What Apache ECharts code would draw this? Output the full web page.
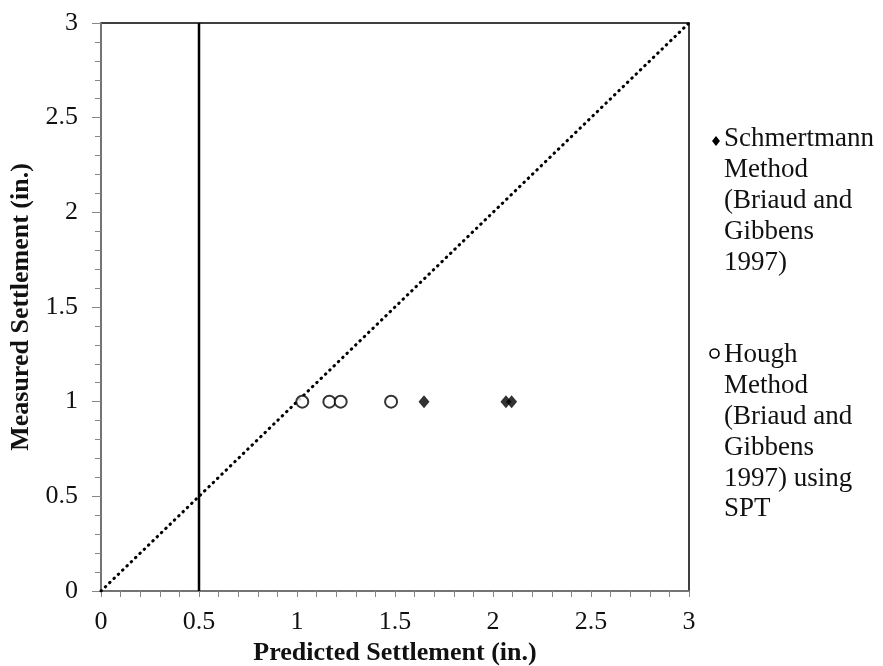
<!DOCTYPE html>
<html>
<head>
<meta charset="utf-8">
<script src="https://cdn.jsdelivr.net/npm/echarts@6/dist/echarts.min.js"></script>
<style>
  html, body { margin: 0; padding: 0; background: #fff; }
  #chart { width: 883px; height: 666px; }
</style>
</head>
<body>
<div id="chart"></div>
<script>
// Predicted vs. measured settlement (inches)
const schmertmannPredicted = [1.648, 2.066, 2.095];
const schmertmannMeasured  = [1.0, 1.0, 1.0];
const houghPredicted = [1.027, 1.165, 1.223, 1.480];
const houghMeasured  = [1.0, 1.0, 1.0, 1.0];
const equalityLine = [[0, 0], [3, 3]];
const limitLine = [[0.5, 0], [0.5, 3]];
const schmertmannLabel = ['Schmertmann', 'Method', '(Briaud and', 'Gibbens', '1997)'];
const houghLabel = ['Hough', 'Method', '(Briaud and', 'Gibbens', '1997) using', 'SPT'];

const serif = '"Liberation Serif", "Times New Roman", serif';
const zip = (xs, ys) => xs.map((x, i) => [x, ys[i]]);

const axisCommon = {
  min: 0, max: 3, interval: 0.5,
  axisLine: { show: true, lineStyle: { color: '#868686', width: 1.5 } },
  axisTick: { show: true, inside: false, length: 6, lineStyle: { color: '#868686', width: 1 } },
  minorTick: { show: true, splitNumber: 5, length: 6, lineStyle: { color: '#868686', width: 1 } },
  splitLine: { show: false },
  axisLabel: { color: '#111', fontFamily: serif, fontSize: 26 },
  nameTextStyle: { color: '#111', fontFamily: serif, fontSize: 26, fontWeight: 'bold' },
  nameLocation: 'middle'
};

const chart = echarts.init(document.getElementById('chart'));
chart.setOption({
  animation: false,
  backgroundColor: '#fff',
  grid: {
    left: 101, top: 23, right: 194, bottom: 75,
    outerBoundsMode: 'none', containLabel: false,
    show: true, borderColor: '#000', borderWidth: 1.5, backgroundColor: 'transparent'
  },
  xAxis: Object.assign({}, axisCommon, {
    type: 'value', name: 'Predicted Settlement (in.)', nameGap: 47,
    axisLabel: Object.assign({}, axisCommon.axisLabel, { margin: 18 })
  }),
  yAxis: Object.assign({}, axisCommon, {
    type: 'value', name: 'Measured Settlement (in.)', nameGap: 64,
    axisTick: Object.assign({}, axisCommon.axisTick, { length: 9 }),
    axisLabel: Object.assign({}, axisCommon.axisLabel, { margin: 23 })
  }),
  series: [
    {
      type: 'line', data: equalityLine, symbol: 'none', silent: true,
      lineStyle: { color: '#000', width: 3, type: [0.5, 5.5], cap: 'round' }, z: 1
    },
    {
      type: 'line', data: limitLine, symbol: 'none', silent: true,
      lineStyle: { color: '#000', width: 2.5 }, z: 1
    },
    {
      name: 'Schmertmann', type: 'scatter', data: zip(schmertmannPredicted, schmertmannMeasured),
      symbol: 'diamond', symbolSize: [11, 13], itemStyle: { color: '#000' }, z: 3
    },
    {
      name: 'Hough', type: 'scatter', data: zip(houghPredicted, houghMeasured),
      symbol: 'circle', symbolSize: 12, itemStyle: { color: '#fff', borderColor: '#000', borderWidth: 2 }, z: 3
    }
  ],
  graphic: [
    { type: 'polygon', shape: { points: [[716, 136], [720, 141], [716, 146], [712, 141]] }, style: { fill: '#000' } },
    { type: 'text', x: 724, y: 124, style: { text: schmertmannLabel.join('\n'), font: '27px ' + serif, lineHeight: 30.8, fill: '#111' } },
    { type: 'circle', shape: { cx: 714.5, cy: 353.5, r: 4.5 }, style: { fill: '#fff', stroke: '#000', lineWidth: 1.6 } },
    { type: 'text', x: 724, y: 340, style: { text: houghLabel.join('\n'), font: '27px ' + serif, lineHeight: 30.8, fill: '#111' } }
  ]
});
</script>
</body>
</html>
